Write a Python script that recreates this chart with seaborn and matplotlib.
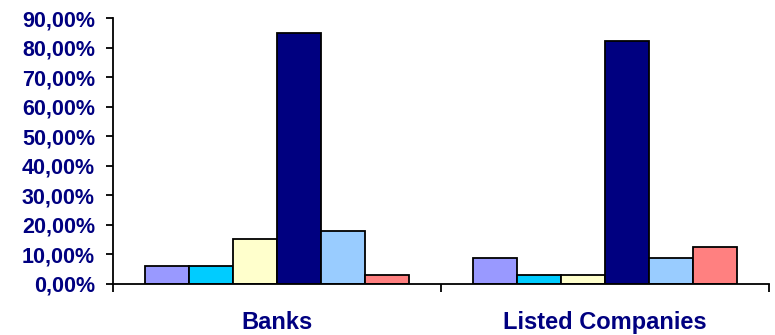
import matplotlib
matplotlib.use("Agg")
import matplotlib.pyplot as plt
import seaborn as sns
import pandas as pd
import numpy as np

categories = ["Banks", "Listed Companies"]
series = ["Series 1", "Series 2", "Series 3", "Series 4", "Series 5", "Series 6"]
banks = [5.8, 5.8, 15.1, 85.1, 17.9, 2.9]
listed = [8.6, 2.8, 3.0, 82.3, 8.6, 12.3]
colors = ["#9999FF", "#00CCFF", "#FFFFCC", "#000080", "#99CCFF", "#FF8080"]
ytick_values = [0, 10, 20, 30, 40, 50, 60, 70, 80, 90]
ytick_labels = ["0,00%", "10,00%", "20,00%", "30,00%", "40,00%",
                "50,00%", "60,00%", "70,00%", "80,00%", "90,00%"]

rows = []
for s, b, l in zip(series, banks, listed):
    rows.append({"category": categories[0], "series": s, "value": b})
    rows.append({"category": categories[1], "series": s, "value": l})
df = pd.DataFrame(rows)

sns.set_theme(style="white")
plt.rcParams["font.family"] = ["Liberation Sans", "DejaVu Sans"]

fig = plt.figure(figsize=(7.75, 3.35), dpi=100)
ax = fig.add_axes([113 / 775, 1 - 283.5 / 335, 656 / 775, (283.5 - 18.3) / 335])

sns.barplot(data=df, x="category", y="value", hue="series", order=categories,
            hue_order=series, palette=colors, width=0.805, legend=False,
            edgecolor="black", linewidth=1.3, saturation=1, ax=ax)

ax.set_xlim(-0.5, 1.5)
ax.set_ylim(0, 90)
navy = "#000080"
ax.set_yticks(ytick_values, labels=ytick_labels)
ax.tick_params(axis="y", which="major", direction="out", length=5, width=1.3,
               color="black", left=True, pad=8, labelsize=15.5, labelcolor=navy)
for t in ax.get_yticklabels():
    t.set_fontweight("bold")

ax.set_xticks([0, 1], labels=categories)
ax.set_xticks([-0.5, 0.5, 1.5], minor=True)
ax.tick_params(axis="x", which="major", length=0, pad=20, labelsize=17,
               labelcolor=navy)
ax.tick_params(axis="x", which="minor", direction="out", length=6, width=1.3,
               color="black", bottom=True)
for t in ax.get_xticklabels():
    t.set_fontweight("bold")

ax.set_xlabel("")
ax.set_ylabel("")
for side in ["top", "right"]:
    ax.spines[side].set_visible(False)
for side in ["left", "bottom"]:
    ax.spines[side].set_color("black")
    ax.spines[side].set_linewidth(1.3)
ax.grid(False)

fig.savefig("out.png", dpi=100)
